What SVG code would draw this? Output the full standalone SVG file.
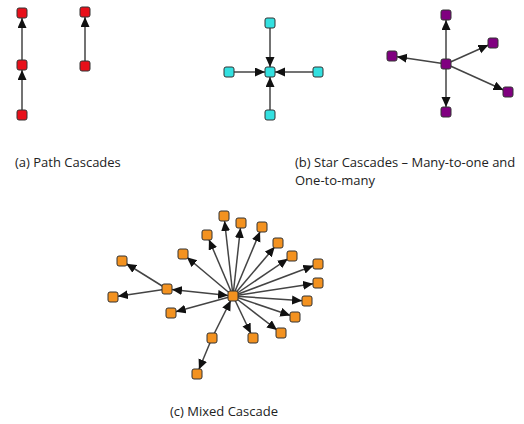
<svg xmlns="http://www.w3.org/2000/svg" width="524" height="424" viewBox="0 0 524 424">
<defs>
<marker id="ah" markerUnits="userSpaceOnUse" markerWidth="20" markerHeight="10" viewBox="0 0 20 10" refX="15" refY="4.5" orient="auto-start-reverse">
<path d="M0,0 L10,4.5 L0,9 z" fill="#111"/>
</marker>
<style>
.e{stroke:#444;stroke-width:1.5;fill:none;marker-end:url(#ah)}
.b{marker-start:url(#ah)}
.n{stroke:#333;stroke-width:1}
.r{fill:#e8101a}
.c{fill:#33e0e0}
.p{fill:#800080}
.o{fill:#f39220}
text{font-family:"Open Sans","Liberation Sans",sans-serif;font-size:13px;fill:#222}
</style>
</defs>
<rect width="524" height="424" fill="#fff"/>
<g id="connectors">
<line class="e" x1="22" y1="115" x2="22" y2="65"/>
<line class="e" x1="22" y1="65" x2="22" y2="13"/>
<line class="e" x1="85" y1="66" x2="85" y2="12"/>
<line class="e" x1="270" y1="23" x2="270" y2="72"/>
<line class="e" x1="229" y1="72" x2="270" y2="72"/>
<line class="e" x1="318" y1="72" x2="270" y2="72"/>
<line class="e" x1="270" y1="115" x2="270" y2="72"/>
<line class="e" x1="446" y1="64" x2="446" y2="15"/>
<line class="e" x1="446" y1="64" x2="392" y2="56"/>
<line class="e" x1="446" y1="64" x2="493" y2="43"/>
<line class="e" x1="446" y1="64" x2="508" y2="92"/>
<line class="e" x1="446" y1="64" x2="446" y2="112"/>
<line class="e" x1="233" y1="296" x2="224" y2="216"/>
<line class="e" x1="233" y1="296" x2="241" y2="223"/>
<line class="e" x1="233" y1="296" x2="262" y2="227"/>
<line class="e" x1="233" y1="296" x2="207" y2="235"/>
<line class="e" x1="233" y1="296" x2="278" y2="243"/>
<line class="e" x1="233" y1="296" x2="183" y2="254"/>
<line class="e" x1="233" y1="296" x2="292" y2="256"/>
<line class="e" x1="233" y1="296" x2="318" y2="264"/>
<line class="e" x1="233" y1="296" x2="318" y2="283"/>
<line class="e" x1="233" y1="296" x2="307" y2="301"/>
<line class="e" x1="233" y1="296" x2="295" y2="317"/>
<line class="e" x1="233" y1="296" x2="281" y2="333"/>
<line class="e" x1="233" y1="296" x2="253" y2="338"/>
<line class="e" x1="233" y1="296" x2="171" y2="313"/>
<line class="e b" x1="167" y1="289" x2="233" y2="296"/>
<line class="e" x1="167" y1="289" x2="122" y2="261"/>
<line class="e" x1="167" y1="289" x2="113" y2="297"/>
<line class="e" x1="212" y1="338" x2="233" y2="296"/>
<line class="e" x1="212" y1="338" x2="197" y2="374"/>
</g>
<g id="path-nodes">
<rect id="pa1" class="n r" x="17" y="8" width="10" height="10" rx="2"/>
<rect id="pa2" class="n r" x="17" y="60" width="10" height="10" rx="2"/>
<rect id="pa3" class="n r" x="17" y="110" width="10" height="10" rx="2"/>
<rect id="pb1" class="n r" x="80" y="7" width="10" height="10" rx="2"/>
<rect id="pb2" class="n r" x="80" y="61" width="10" height="10" rx="2"/>
</g>
<g id="star-in-nodes">
<rect id="si0" class="n c" x="265" y="67" width="10" height="10" rx="2"/>
<rect id="si1" class="n c" x="265" y="18" width="10" height="10" rx="2"/>
<rect id="si2" class="n c" x="224" y="67" width="10" height="10" rx="2"/>
<rect id="si3" class="n c" x="313" y="67" width="10" height="10" rx="2"/>
<rect id="si4" class="n c" x="265" y="110" width="10" height="10" rx="2"/>
</g>
<g id="star-out-nodes">
<rect id="so0" class="n p" x="441" y="59" width="10" height="10" rx="2"/>
<rect id="so1" class="n p" x="441" y="10" width="10" height="10" rx="2"/>
<rect id="so2" class="n p" x="387" y="51" width="10" height="10" rx="2"/>
<rect id="so3" class="n p" x="488" y="38" width="10" height="10" rx="2"/>
<rect id="so4" class="n p" x="503" y="87" width="10" height="10" rx="2"/>
<rect id="so5" class="n p" x="441" y="107" width="10" height="10" rx="2"/>
</g>
<g id="mixed-nodes">
<rect id="m0" class="n o" x="228" y="291" width="10" height="10" rx="2"/>
<rect class="n o" x="219" y="211" width="10" height="10" rx="2"/>
<rect class="n o" x="236" y="218" width="10" height="10" rx="2"/>
<rect class="n o" x="257" y="222" width="10" height="10" rx="2"/>
<rect class="n o" x="202" y="230" width="10" height="10" rx="2"/>
<rect class="n o" x="273" y="238" width="10" height="10" rx="2"/>
<rect class="n o" x="178" y="249" width="10" height="10" rx="2"/>
<rect class="n o" x="287" y="251" width="10" height="10" rx="2"/>
<rect class="n o" x="313" y="259" width="10" height="10" rx="2"/>
<rect class="n o" x="313" y="278" width="10" height="10" rx="2"/>
<rect class="n o" x="302" y="296" width="10" height="10" rx="2"/>
<rect class="n o" x="290" y="312" width="10" height="10" rx="2"/>
<rect class="n o" x="276" y="328" width="10" height="10" rx="2"/>
<rect class="n o" x="248" y="333" width="10" height="10" rx="2"/>
<rect class="n o" x="166" y="308" width="10" height="10" rx="2"/>
<rect id="m-hub" class="n o" x="162" y="284" width="10" height="10" rx="2"/>
<rect class="n o" x="117" y="256" width="10" height="10" rx="2"/>
<rect class="n o" x="108" y="292" width="10" height="10" rx="2"/>
<rect id="m-src" class="n o" x="207" y="333" width="10" height="10" rx="2"/>
<rect class="n o" x="192" y="369" width="10" height="10" rx="2"/>
</g>
<g id="labels">
<text x="15" y="167">(a) Path Cascades</text>
<text x="295" y="167">(b) Star Cascades – Many-to-one and</text>
<text x="295" y="185">One-to-many</text>
<text x="170" y="416">(c) Mixed Cascade</text>
</g>
</svg>
